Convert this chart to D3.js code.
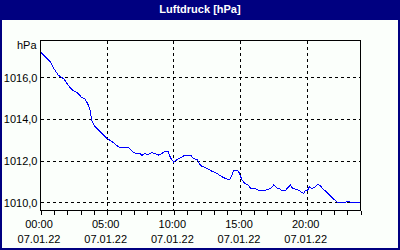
<!DOCTYPE html>
<html>
<head>
<meta charset="utf-8">
<script src="https://cdn.jsdelivr.net/npm/d3@7"></script>
<style>
body { margin: 0; background: #fff; }
svg { display: block; }
text { font-family: "Liberation Sans Narrow", "Arial Narrow", "Liberation Sans", sans-serif; font-size: 11px; fill: #000; }
.title { font-family: "Liberation Sans", Arial, sans-serif; font-weight: bold; fill: #fff; }
</style>
</head>
<body>
<svg id="chart" width="400" height="250"></svg>
<script>
var title = "Luftdruck [hPa]";
var unit = "hPa";
var day = "2022-01-07";

// Messzeitpunkte (HH:MM) und Luftdruck in hPa
var times = ["00:00","00:45","01:00","01:20","01:45","02:05","02:20","02:50","03:05","03:20",
  "03:35","03:45","03:50","04:05","04:20","04:35","05:00","05:20","05:45","05:55",
  "06:35","07:00","07:30","07:35","07:50","08:00","08:20","08:35","08:50","09:05",
  "09:20","09:35","09:45","10:00","10:15","10:30","10:50","11:15","11:30","11:45",
  "12:00","12:05","12:30","12:50","13:15","13:30","13:50","14:10","14:20","14:30",
  "14:45","14:55","15:05","15:20","15:35","15:45","16:05","16:20","16:50","17:15",
  "17:30","17:45","18:00","18:05","18:20","18:45","18:55","19:15","19:30","19:45",
  "19:50","20:00","20:10","20:20","20:30","20:50","21:00","21:10","21:30","21:45",
  "22:00","22:20","22:45","23:05","23:20","24:00"];
var pressure = [1017.24,1016.76,1016.44,1016.13,1015.94,1015.65,1015.44,1015.25,1015.05,1014.99,
  1014.70,1014.38,1013.94,1013.67,1013.51,1013.35,1013.08,1012.95,1012.74,1012.67,
  1012.67,1012.40,1012.35,1012.27,1012.37,1012.29,1012.40,1012.37,1012.29,1012.35,
  1012.48,1012.44,1012.16,1011.95,1012.08,1012.16,1012.29,1012.29,1012.11,1012.08,
  1011.80,1011.76,1011.65,1011.52,1011.41,1011.29,1011.18,1011.10,1011.29,1011.57,
  1011.57,1011.44,1011.13,1010.92,1010.84,1010.70,1010.68,1010.60,1010.60,1010.68,
  1010.86,1010.70,1010.65,1010.57,1010.57,1010.86,1010.68,1010.65,1010.54,1010.44,
  1010.57,1010.57,1010.76,1010.70,1010.72,1010.89,1010.81,1010.68,1010.49,1010.33,
  1010.17,1010.00,1010.00,1010.08,1010.00,1010.00];
var yTicks = [1010, 1012, 1014, 1016];
var yDomain = [1009.63, 1017.79];
var labelHours = [0, 5, 10, 15, 20];

var start = new Date(day + "T00:00:00");
function toDate(t) {
  var p = t.split(":");
  return d3.timeMinute.offset(start, (+p[0]) * 60 + (+p[1]));
}

var data = times.map(function(t, i) {
  return { date: toDate(t), value: pressure[i] };
});

var svg = d3.select("#chart");
var W = 400, H = 250;

// Rahmen und Titelleiste
svg.append("rect").attr("width", W).attr("height", H).attr("fill", "#000080");
svg.append("rect").attr("x", 2).attr("y", 20).attr("width", W - 4).attr("height", H - 22)
  .attr("fill", "#fbfffb");
svg.append("text").attr("class", "title")
  .attr("x", W / 2).attr("y", 12.5)
  .attr("text-anchor", "middle")
  .text(title);

var width = 320, height = 170;
var g = svg.append("g").attr("transform", "translate(40.5,40.5)");

var x = d3.scaleTime()
  .domain([start, d3.timeDay.offset(start, 1)])
  .range([0, width]);

var y = d3.scaleLinear()
  .domain(yDomain)
  .range([height, 0]);

var labelDates = labelHours.map(function(h) { return d3.timeHour.offset(start, h); });

// Gitter
g.selectAll(".hgrid")
  .data(yTicks)
  .enter().append("line")
    .attr("x1", 0).attr("x2", width)
    .attr("y1", function(d) { return Math.round(y(d)); })
    .attr("y2", function(d) { return Math.round(y(d)); })
    .attr("stroke", "#000").attr("stroke-dasharray", "3,3")
    .attr("shape-rendering", "crispEdges");

g.selectAll(".vgrid")
  .data(labelDates.slice(1))
  .enter().append("line")
    .attr("x1", function(d) { return Math.round(x(d)); })
    .attr("x2", function(d) { return Math.round(x(d)); })
    .attr("y1", 0).attr("y2", height)
    .attr("stroke", "#000").attr("stroke-dasharray", "3,3")
    .attr("shape-rendering", "crispEdges");

// Stundenstriche
var hourAxis = d3.axisBottom(x)
  .ticks(d3.timeHour.every(1))
  .tickSize(4)
  .tickFormat("");
g.append("g")
  .attr("transform", "translate(0," + height + ")")
  .call(hourAxis)
  .call(function(a) { a.select(".domain").remove(); })
  .selectAll("line").attr("shape-rendering", "crispEdges");

// Zeitbeschriftung
var fmtTime = d3.timeFormat("%H:%M"),
    fmtDay = d3.timeFormat("%d.%m.%y");
var xl = g.selectAll(".xlabel")
  .data(labelDates)
  .enter().append("text")
    .attr("text-anchor", "middle")
    .attr("transform", function(d) { return "translate(" + (x(d) - 1.5) + ",0)"; });
xl.append("tspan").attr("x", 0).attr("y", 187).text(function(d) { return fmtTime(d); });
xl.append("tspan").attr("x", 0).attr("y", 202).text(function(d) { return fmtDay(d); });

// Druckachse
var yAxis = d3.axisLeft(y)
  .tickValues(yTicks)
  .tickSize(0)
  .tickPadding(3)
  .tickFormat(function(d) { return d3.format(".1f")(d).replace(".", ","); });
g.append("g")
  .call(yAxis)
  .call(function(a) { a.select(".domain").remove(); })
  .selectAll("text")
    .style("font-family", null).style("font-size", null)
    .attr("fill", "#000");

g.append("text")
  .attr("x", -4).attr("y", 4.5)
  .attr("text-anchor", "end")
  .attr("dy", "0.32em")
  .text(unit);

// Kurve
var line = d3.line()
  .x(function(d) { return x(d.date); })
  .y(function(d) { return y(d.value); });

g.append("path")
  .datum(data)
  .attr("fill", "none")
  .attr("stroke", "#0000ff")
  .attr("stroke-width", 1)
  .attr("shape-rendering", "crispEdges")
  .attr("d", line);

// Diagrammrahmen
g.append("rect")
  .attr("width", width).attr("height", height)
  .attr("fill", "none").attr("stroke", "#000")
  .attr("shape-rendering", "crispEdges");
</script>
</body>
</html>
